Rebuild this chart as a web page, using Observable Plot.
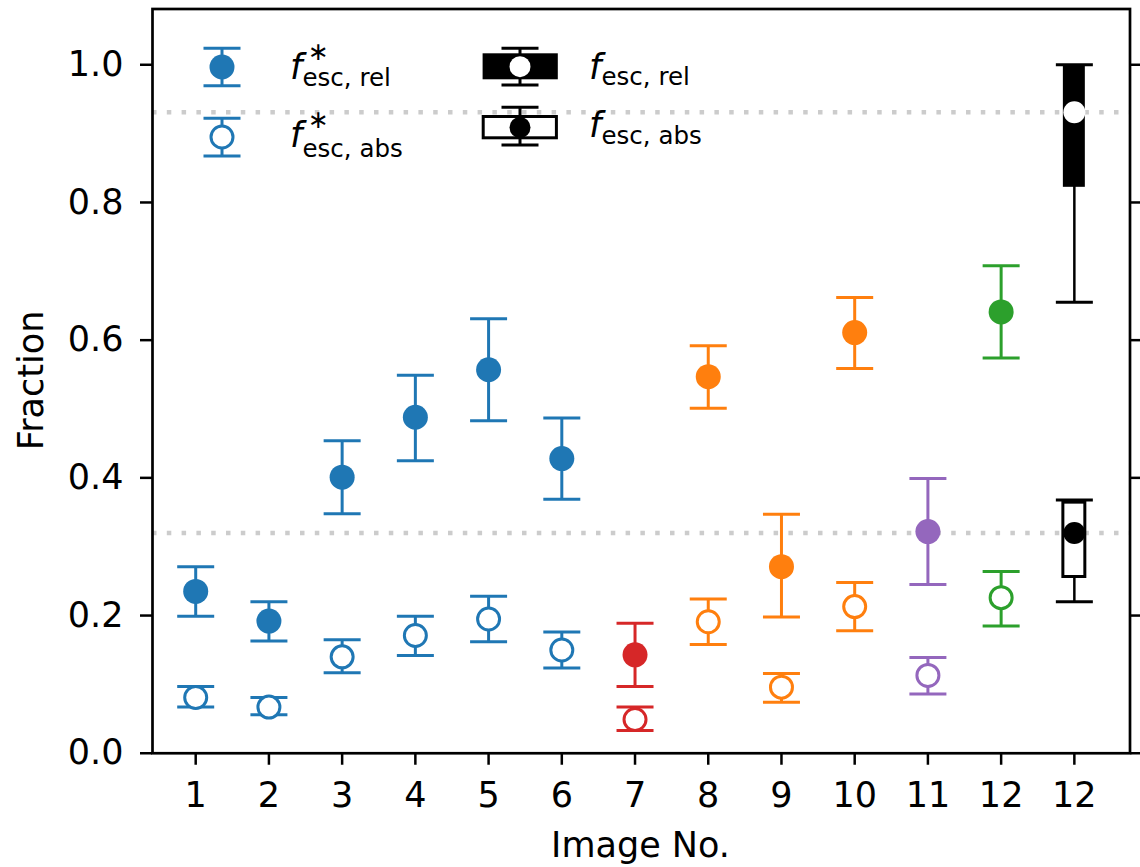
<!DOCTYPE html>
<html>
<head>
<meta charset="utf-8">
<script src="https://cdn.jsdelivr.net/npm/d3@7"></script>
<script src="https://cdn.jsdelivr.net/npm/@observablehq/plot@0.6"></script>
<style>
  body { margin: 0; background: #fff; }
  #chart { width: 1140px; height: 867px; }
  svg text { font-family: "DejaVu Sans", sans-serif; }
</style>
</head>
<body>
<div id="chart"></div>
<script>
// Image positions along the x axis; the last slot holds the combined estimate
const positions = [1, 2, 3, 4, 5, 6, 7, 8, 9, 10, 11, 12, 13];
const tickLabels = ["1", "2", "3", "4", "5", "6", "7", "8", "9", "10", "11", "12", "12"];
const yTicks = [0, 0.2, 0.4, 0.6, 0.8, 1.0];

// Per-image colours (images 1-12)
const imageColors = ["#1f77b4", "#1f77b4", "#1f77b4", "#1f77b4", "#1f77b4", "#1f77b4",
  "#d62728", "#ff7f0e", "#ff7f0e", "#ff7f0e", "#9467bd", "#2ca02c"];

// f*_esc,rel per image: value and error-bar limits
const relValue = [0.235, 0.192, 0.401, 0.488, 0.557, 0.428, 0.143, 0.547, 0.271, 0.611, 0.322, 0.641];
const relLow   = [0.199, 0.163, 0.348, 0.425, 0.483, 0.369, 0.097, 0.501, 0.198, 0.559, 0.245, 0.574];
const relHigh  = [0.271, 0.220, 0.454, 0.549, 0.631, 0.487, 0.189, 0.592, 0.347, 0.662, 0.399, 0.708];

// f*_esc,abs per image: value and error-bar limits
const absValue = [0.081, 0.067, 0.140, 0.171, 0.195, 0.150, 0.049, 0.191, 0.096, 0.213, 0.113, 0.226];
const absLow   = [0.067, 0.056, 0.117, 0.142, 0.162, 0.124, 0.033, 0.158, 0.074, 0.178, 0.086, 0.185];
const absHigh  = [0.097, 0.081, 0.165, 0.199, 0.228, 0.176, 0.067, 0.224, 0.116, 0.248, 0.139, 0.264];

// Combined estimate: [value, box low, box high, whisker low, whisker high]
const combinedRel = [0.931, 0.822, 1.000, 0.655, 1.000];
const combinedAbs = [0.320, 0.256, 0.364, 0.220, 0.368];
const combinedPos = 13;
const boxWidth = 0.3;

const rel = relValue.map((v, i) => ({x: positions[i], v, lo: relLow[i], hi: relHigh[i], c: imageColors[i]}));
const abs = absValue.map((v, i) => ({x: positions[i], v, lo: absLow[i], hi: absHigh[i], c: imageColors[i]}));
const combined = [combinedRel, combinedAbs].map(([v, q1, q3, lo, hi], k) =>
  ({x: combinedPos, v, q1, q3, lo, hi, kind: k === 0 ? "rel" : "abs"}));
const refLines = combined.map(d => d.v);

// horizontal cap symbol for error bars (half-length = r)
const cap = {
  draw(context, size) {
    const w = Math.sqrt(size / Math.PI);
    context.moveTo(-w, 0);
    context.lineTo(w, 0);
  }
};

const FS = 35;
const errMarks = (data) => [
  Plot.ruleX(data, {x: "x", y1: "lo", y2: "hi", stroke: "c", strokeWidth: 3}),
  Plot.dot(data, {x: "x", y: "lo", symbol: cap, r: 18.5, stroke: "c", strokeWidth: 3, fill: "none"}),
  Plot.dot(data, {x: "x", y: "hi", symbol: cap, r: 18.5, stroke: "c", strokeWidth: 3, fill: "none"})
];

const plot = Plot.plot({
  width: 1140,
  height: 867,
  marginLeft: 152,
  marginRight: 10.5,
  marginTop: 8.5,
  marginBottom: 114.25,
  style: {fontFamily: "DejaVu Sans", fontSize: FS + "px", background: "white"},
  x: {domain: [0.41, 13.76]},
  y: {domain: [0, 1.081]},
  color: {type: "identity"},
  marks: [
    Plot.ruleY(refLines, {stroke: "#cccccc", strokeWidth: 4.5, strokeDasharray: "4.5,10.3"}),
    ...errMarks(rel),
    ...errMarks(abs),
    Plot.dot(rel, {x: "x", y: "v", r: 12.5, fill: "c", stroke: "none"}),
    Plot.dot(abs, {x: "x", y: "v", r: 11, fill: "white", stroke: "c", strokeWidth: 3}),
    // combined estimate: whiskers, boxes, points
    Plot.ruleX(combined, {x: "x", y1: "lo", y2: "hi", stroke: "black", strokeWidth: 2.5}),
    Plot.dot(combined, {x: "x", y: "lo", symbol: cap, r: 18.5, stroke: "black", strokeWidth: 3, fill: "none"}),
    Plot.dot(combined, {x: "x", y: "hi", symbol: cap, r: 18.5, stroke: "black", strokeWidth: 3, fill: "none"}),
    Plot.rect(combined.filter(d => d.kind === "rel"), {
      x1: d => d.x - boxWidth / 2, x2: d => d.x + boxWidth / 2, y1: "q1", y2: "q3", fill: "black"}),
    Plot.rect(combined.filter(d => d.kind === "abs"), {
      x1: d => d.x - boxWidth / 2, x2: d => d.x + boxWidth / 2, y1: "q1", y2: "q3",
      fill: "white", stroke: "black", strokeWidth: 3}),
    Plot.dot(combined.filter(d => d.kind === "rel"), {x: "x", y: "v", r: 11, fill: "white", stroke: "none"}),
    Plot.dot(combined.filter(d => d.kind === "abs"), {x: "x", y: "v", r: 11, fill: "black", stroke: "none"}),
    // axes
    Plot.axisX({ticks: positions, tickFormat: d => tickLabels[positions.indexOf(d)], tickSize: 12,
      tickPadding: 17, fontSize: FS, strokeWidth: 2.5, label: null}),
    Plot.axisY({ticks: yTicks, tickFormat: d3.format(".1f"), tickSize: 12, tickPadding: 17,
      fontSize: FS, strokeWidth: 2.5, label: null}),
    Plot.axisY({anchor: "right", ticks: yTicks, tickFormat: () => "", tickSize: 12,
      strokeWidth: 2.5, label: null}),
    Plot.frame({stroke: "black", strokeWidth: 2.7})
  ]
});

document.getElementById("chart").appendChild(plot);

const svg = d3.select(plot);

// axis titles
svg.append("text").attr("x", 640.5).attr("y", 857).attr("text-anchor", "middle")
  .attr("font-size", FS).attr("fill", "black").text("Image No.");
svg.append("text").attr("transform", "translate(43,380.5) rotate(-90)").attr("text-anchor", "middle")
  .attr("font-size", FS).attr("fill", "black").text("Fraction");

// legend
const lg = svg.append("g").attr("text-anchor", "start");
const blue = imageColors[0];

function errSwatch(g, cx, yTop, yBot, color) {
  g.append("line").attr("x1", cx).attr("x2", cx).attr("y1", yTop).attr("y2", yBot)
    .attr("stroke", color).attr("stroke-width", 3);
  for (const y of [yTop, yBot]) {
    g.append("line").attr("x1", cx - 18.5).attr("x2", cx + 18.5).attr("y1", y).attr("y2", y)
      .attr("stroke", color).attr("stroke-width", 3);
  }
}

function label(g, x, yF, ySub, sub, star) {
  g.append("text").attr("x", x).attr("y", yF).attr("font-size", FS).attr("text-anchor", "start")
    .attr("font-style", "italic").attr("fill", "black").text("f");
  if (star) {
    g.append("text").attr("x", x + 18).attr("y", yF - 19.5).attr("font-size", 25).attr("text-anchor", "start")
      .attr("fill", "black").text("∗");
  }
  g.append("text").attr("x", x + 12.5).attr("y", ySub).attr("font-size", 24.5).attr("text-anchor", "start")
    .attr("fill", "black").text(sub);
}

// f*_esc,rel
errSwatch(lg, 222, 48.3, 85.7, blue);
lg.append("circle").attr("cx", 222).attr("cy", 67).attr("r", 12.5).attr("fill", blue);
label(lg, 290, 79, 86, "esc, rel", true);

// f*_esc,abs
errSwatch(lg, 222, 118.3, 156, blue);
lg.append("circle").attr("cx", 222).attr("cy", 137).attr("r", 11).attr("fill", "white")
  .attr("stroke", blue).attr("stroke-width", 3);
label(lg, 290, 147, 156.7, "esc, abs", true);

// f_esc,rel
errSwatch(lg, 520, 48.3, 85, "black");
lg.append("rect").attr("x", 482.6).attr("y", 53.3).attr("width", 75.2).attr("height", 26).attr("fill", "black");
lg.append("circle").attr("cx", 520).attr("cy", 66.7).attr("r", 10.5).attr("fill", "white");
label(lg, 589, 79, 85, "esc, rel", false);

// f_esc,abs
errSwatch(lg, 520, 107.3, 145, "black");
lg.append("rect").attr("x", 483.2).attr("y", 116.5).attr("width", 73.2).attr("height", 21.3)
  .attr("fill", "white").attr("stroke", "black").attr("stroke-width", 3);
lg.append("circle").attr("cx", 520).attr("cy", 127.5).attr("r", 10.5).attr("fill", "black");
label(lg, 589, 137, 143.5, "esc, abs", false);
</script>
</body>
</html>
